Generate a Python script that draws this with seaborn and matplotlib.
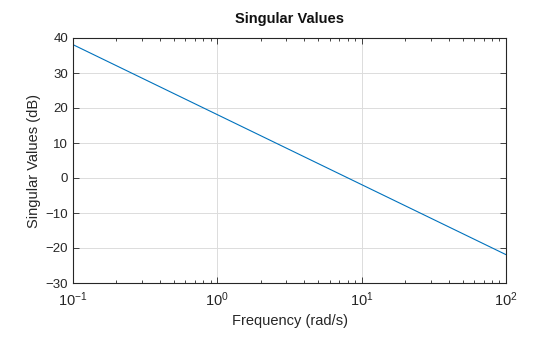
import matplotlib
matplotlib.use("Agg")
import matplotlib.pyplot as plt
import seaborn as sns
import pandas as pd
from matplotlib.ticker import LogLocator, NullFormatter

frequency = [0.1, 1.0, 10.0, 100.0]
singular_db = [38.1, 18.1, -1.9, -21.9]
yticks = [-30, -20, -10, 0, 10, 20, 30, 40]

sns.set_style("ticks")
plt.rcParams['font.family'] = ['Liberation Sans', 'DejaVu Sans']
plt.rcParams['mathtext.fontset'] = 'custom'
plt.rcParams['mathtext.rm'] = 'Liberation Sans'
plt.rcParams['mathtext.it'] = 'Liberation Sans'

df = pd.DataFrame({"Frequency": frequency, "Singular": singular_db})

fig = plt.figure(figsize=(5.6, 3.37), dpi=100)
ax = fig.add_axes([73/560, 1-283/337, (506-73)/560, (283-38)/337])
sns.lineplot(data=df, x="Frequency", y="Singular", ax=ax, color="#0072BD", linewidth=0.8)
ax.set_xscale("log")
ax.set_xlim(0.1, 100)
ax.set_ylim(-30, 40)
ax.set_yticks(yticks)
ax.xaxis.set_major_locator(LogLocator(base=10, numticks=10))
ax.xaxis.set_minor_locator(LogLocator(base=10, subs=range(2, 10), numticks=100))
ax.xaxis.set_minor_formatter(NullFormatter())
ax.grid(True, which="major", color="#dcdcdc", linewidth=0.7)
ax.set_axisbelow(True)
for s in ax.spines.values():
    s.set_linewidth(0.8)
    s.set_color("#262626")
    s.set_visible(True)
ax.tick_params(which="both", direction="in", top=True, right=True, colors="#262626", labelsize=9.5)
ax.tick_params(axis="x", which="major", labelsize=10.5, pad=5)
ax.tick_params(which="major", length=4, width=0.6)
ax.tick_params(which="minor", length=2.5, width=0.6)
ax.set_xlabel("Frequency (rad/s)", fontsize=10.5, color="#262626", labelpad=4)
ax.set_ylabel("Singular Values (dB)", fontsize=10.5, color="#262626", labelpad=3)
ax.set_title("Singular Values", fontsize=10.5, fontweight="bold", color="#111111", pad=11)
fig.savefig("out.png", dpi=100)
